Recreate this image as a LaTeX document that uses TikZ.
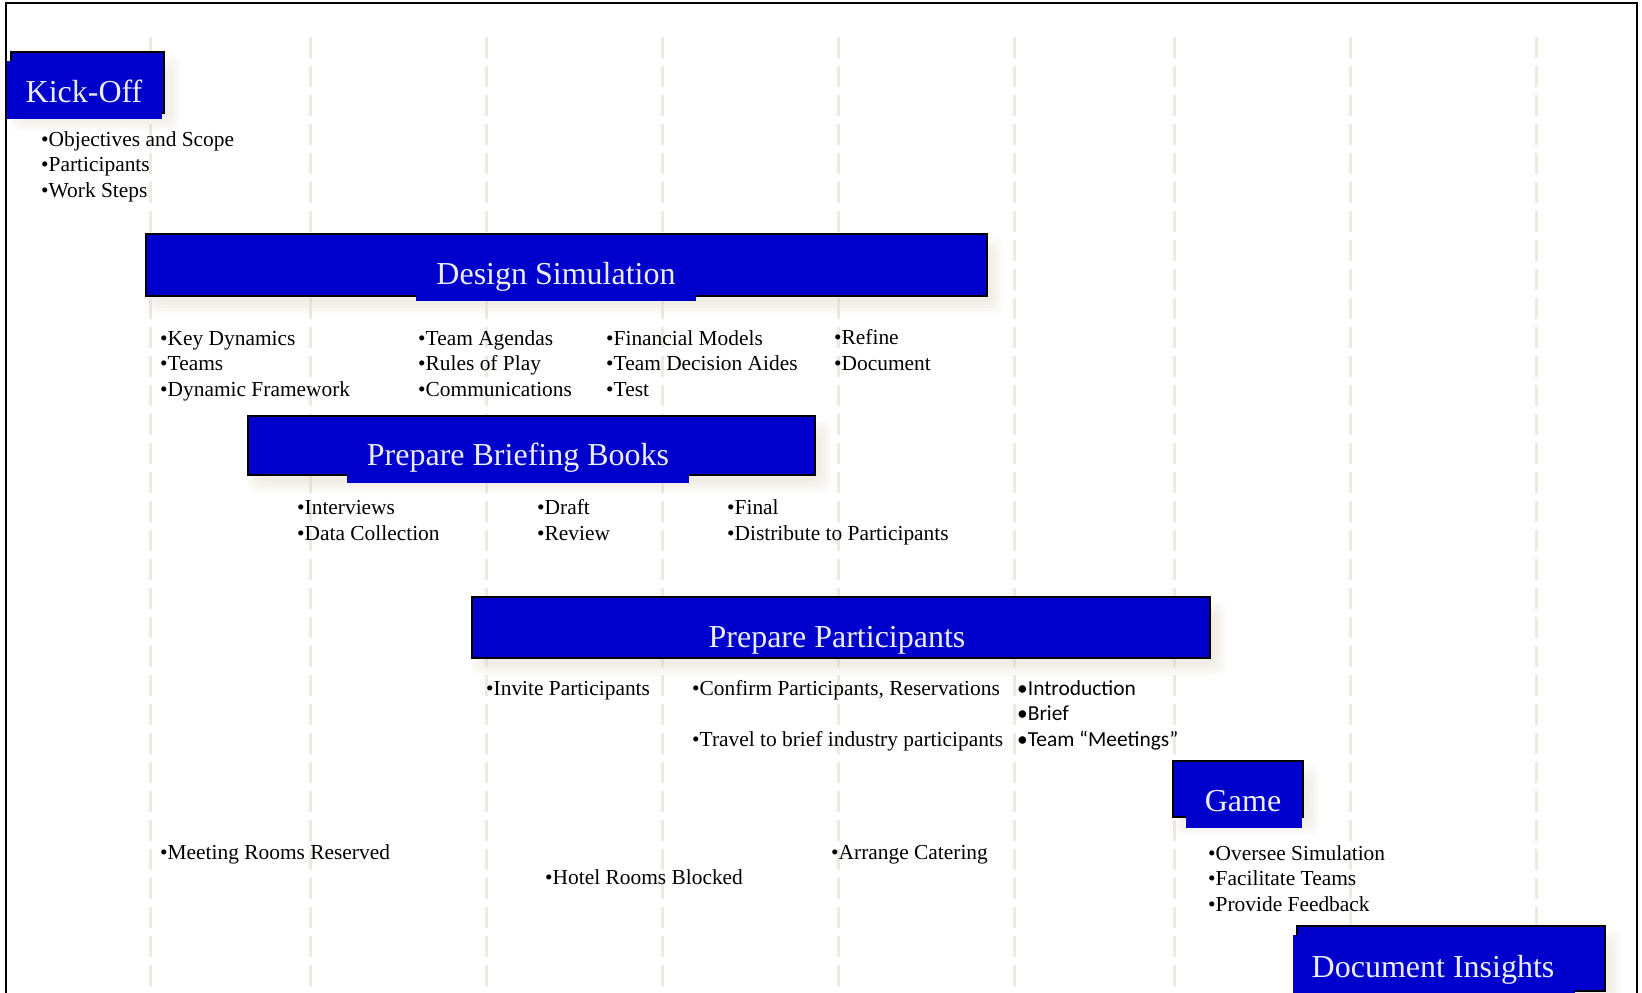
\documentclass[tikz,border=0pt]{standalone}
\usepackage{fontspec}
\setmainfont{Liberation Serif}
\newfontfamily\calibri{Carlito}
\usepackage{tikz}

\definecolor{barblue}{RGB}{0,0,204}
\definecolor{labelwhite}{RGB}{236,236,246}
\definecolor{gridbeige}{RGB}{238,234,222}
\definecolor{glowtan}{RGB}{214,204,178}

\tikzset{
  outline/.style={draw=black, line width=2.5pt, fill=barblue},
  tab/.style={fill=barblue},
  phase/.style={anchor=base, text=labelwhite, inner sep=0pt,
    font=\fontsize{32}{38}\selectfont},
  % base of a list = baseline of its last line
  items/.style={anchor=base west, align=left, inner sep=0pt,
    font=\fontsize{21.4}{25.5}\selectfont},
  gridline/.style={gridbeige, line width=3pt, dash pattern=on 21pt off 8pt},
}

% soft shadow below and right of a bar: x1 y1 x2 y2
\newcommand{\glow}[4]{%
  \foreach \r in {0,3,...,12}
    \fill[glowtan, opacity=.07, rounded corners=8pt]
      ({#1+\r},{#2+\r+4}) rectangle ({#3+16-\r},{#4+18-\r});
}

\begin{document}
\begin{tikzpicture}[x=1pt, y=-1pt]
  \clip (0,0) rectangle (1642,993);
  \fill[white] (0,0) rectangle (1642,993);

  % week grid
  \foreach \x in {150,310,486,662,838,1014,1174,1350,1536}
    \draw[gridline] (\x,37) -- (\x,993);

  \draw[line width=2.5pt] (6,3) rectangle (1637,1010);

  % Kick-Off
  \glow{11}{52}{164}{113}
  \draw[outline] (11,52) rectangle (164,113);
  \fill[tab] (7,61) rectangle (162,119);
  \node[phase] (kickoff) at (84,102) {Kick-Off};
  \node[items] (kickoff-items) at (41,197)
    {•Objectives and Scope\\•Participants\\•Work Steps};

  % Design Simulation
  \glow{146}{234}{987}{296}
  \draw[outline] (146,234) rectangle (987,296);
  \fill[tab] (416,250) rectangle (696,301);
  \node[phase] (design) at (556,284) {Design Simulation};
  \node[items] (design-a) at (160,396) {•Key Dynamics\\•Teams\\•Dynamic Framework};
  \node[items] (design-b) at (418,396) {•Team Agendas\\•Rules of Play\\•Communications};
  \node[items] (design-c) at (606,396) {•Financial Models\\•Team Decision Aides\\•Test};
  \node[items] (design-d) at (834,370) {•Refine\\•Document};

  % Prepare Briefing Books
  \glow{248}{416}{815}{475}
  \draw[outline] (248,416) rectangle (815,475);
  \fill[tab] (347,430) rectangle (689,483);
  \node[phase] (briefing) at (518,465) {Prepare Briefing Books};
  \node[items] (briefing-a) at (297,540) {•Interviews\\•Data Collection};
  \node[items] (briefing-b) at (537,540) {•Draft\\•Review};
  \node[items] (briefing-c) at (727,540) {•Final\\•Distribute to Participants};

  % Prepare Participants
  \glow{472}{597}{1210}{658}
  \draw[outline] (472,597) rectangle (1210,658);
  \node[phase] (participants) at (837,647) {Prepare Participants};
  \node[items] (invite) at (486,695) {•Invite Participants};
  \node[items] (confirm) at (692,695) {•Confirm Participants, Reservations};
  \node[items] (travel) at (692,746) {•Travel to brief industry participants};
  \node[items, font=\calibri\fontsize{21.4}{25.5}\selectfont] (intro) at (1017,746)
    {•Introduction\\•Brief\\•Team “Meetings”};

  % logistics
  \node[items] (rooms) at (160,859) {•Meeting Rooms Reserved};
  \node[items] (hotel) at (545,884) {•Hotel Rooms Blocked};
  \node[items] (catering) at (831,859) {•Arrange Catering};

  % Game
  \glow{1173}{761}{1303}{817}
  \draw[outline] (1173,761) rectangle (1303,817);
  \fill[tab] (1186,766) rectangle (1302,828);
  \node[phase] (game) at (1243,811) {Game};
  \node[items] (game-items) at (1208,911)
    {•Oversee Simulation\\•Facilitate Teams\\•Provide Feedback};

  % Document Insights
  \glow{1297}{926}{1605}{991}
  \draw[outline] (1297,926) rectangle (1605,991);
  \fill[tab] (1293,935) rectangle (1575,1000);
  \node[phase] (insights) at (1433,977) {Document Insights};
\end{tikzpicture}
\end{document}
